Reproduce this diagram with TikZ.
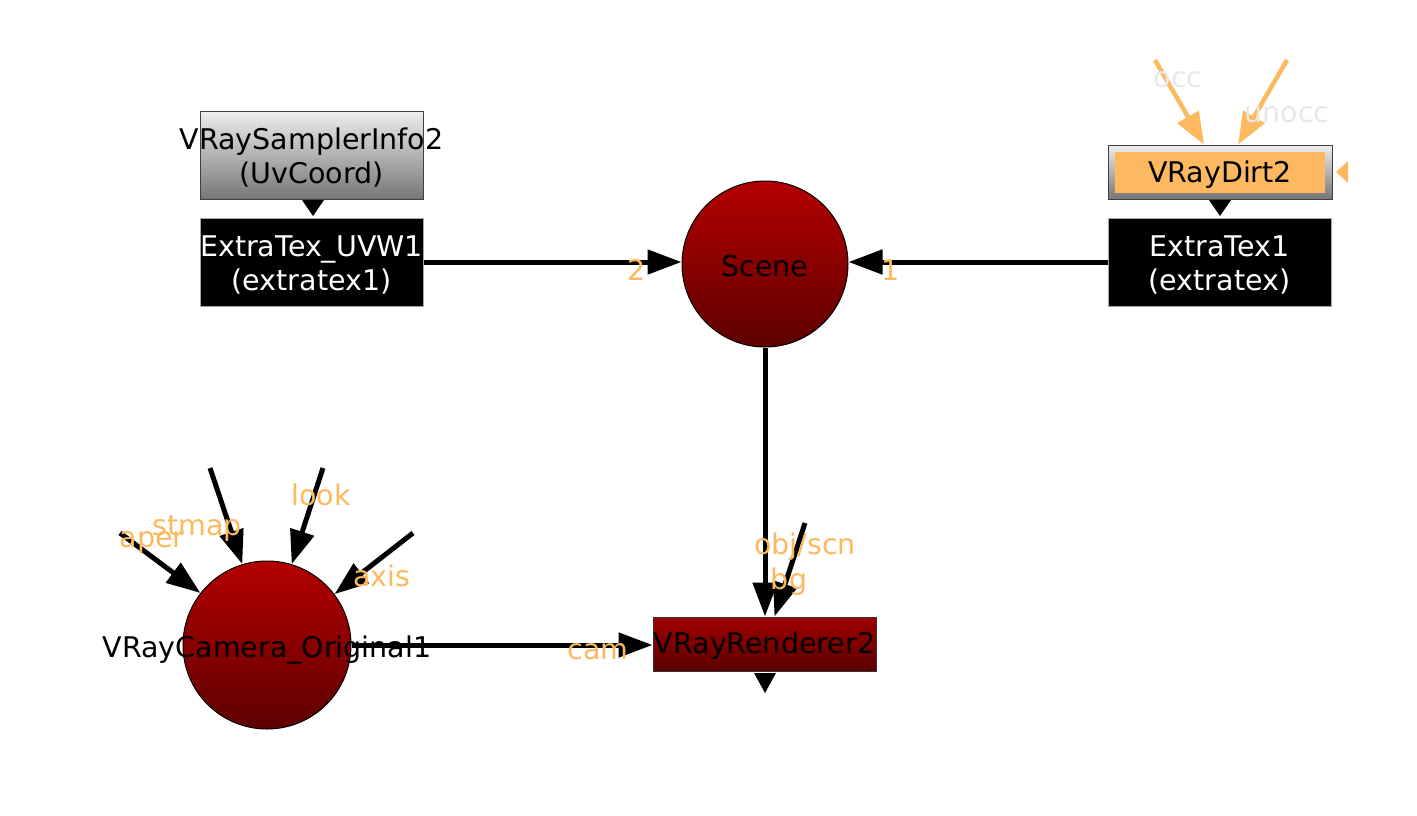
\documentclass[tikz,border=0pt]{standalone}
\usepackage{fontspec}
\setmainfont{DejaVu Sans}
\usetikzlibrary{arrows.meta}
\definecolor{portc}{RGB}{253,185,95}
\definecolor{ghost}{RGB}{232,232,232}
\definecolor{redtop}{RGB}{180,0,0}
\definecolor{redbot}{RGB}{94,0,0}
\definecolor{rentop}{RGB}{160,0,0}
\definecolor{renbot}{RGB}{92,0,0}
\definecolor{greytop}{RGB}{238,238,238}
\definecolor{greybot}{RGB}{118,118,118}
\begin{document}
\begin{tikzpicture}[x=1pt,y=-1pt,
  font=\fontsize{28.5}{34}\selectfont,
  redball/.style={circle, draw=black, line width=1pt, minimum size=166pt, inner sep=0pt, top color=redtop, bottom color=redbot},
  greybox/.style={rectangle, draw=black!75, line width=1pt, inner sep=0pt, top color=greytop, bottom color=greybot},
  blackbox/.style={rectangle, fill=black, draw=black!35, line width=1pt, inner sep=0pt, minimum width=223pt, minimum height=88pt},
  redbox/.style={rectangle, draw=black!80, line width=1pt, inner sep=0pt, top color=rentop, bottom color=renbot},
  txt/.style={text=black, align=center, inner sep=0pt},
  wtxt/.style={text=white, align=center, inner sep=0pt},
  port/.style={text=portc, inner sep=0pt},
  ghostport/.style={text=ghost, inner sep=0pt},
  arr/.style={line width=5pt, draw=black, -{Triangle[length=34pt,width=24pt]}},
  oarr/.style={line width=4.5pt, draw=portc, -{Triangle[length=32pt,width=24pt]}},
  tri/.style={fill=black},
]
\useasboundingbox[fill=white] (0,0) rectangle (1417,815);

% nodes
\node[greybox, minimum width=223pt, minimum height=88pt] (sinfo) at (311.5,155) {};
\node[blackbox] (uvw) at (311.5,262) {};
\node[redball] (scene) at (765,264) {};
\node[greybox, minimum width=224pt, minimum height=54pt] (dirt) at (1220,172) {};
\node[rectangle, fill=portc, inner sep=0pt, minimum width=210pt, minimum height=41pt] (dirtin) at (1220,172.5) {};
\node[blackbox] (extra) at (1219.5,262) {};
\node[redbox, minimum width=223pt, minimum height=54pt] (ren) at (764.5,644) {};
\node[redball, minimum size=168pt] (cam) at (267,645) {};

% free ends
\coordinate (fbg) at (805,523);
\coordinate (faper) at (120,533);
\coordinate (fstmap) at (210,468);
\coordinate (flook) at (323,468);
\coordinate (faxis) at (413,533);
\coordinate (focc) at (1155,60);
\coordinate (funocc) at (1287,60);

% connectors
\draw[arr] (uvw.east) -- (scene.west |- uvw.east);
\draw[arr] (extra.west) -- (scene.east |- extra.west);
\draw[arr] (scene.south) -- (scene.south |- ren.north);
\draw[arr] (fbg) -- ([xshift=10pt]ren.north);
\draw[arr] (cam.east) -- (ren.west |- cam.east);
\draw[arr] (faper) -- (cam.142);
\draw[arr] (fstmap) -- (cam.107);
\draw[arr] (flook) -- (cam.73);
\draw[arr] (faxis) -- (cam.37);
\draw[oarr] (focc) -- ([xshift=-16pt]dirt.north);
\draw[oarr] (funocc) -- ([xshift=18pt]dirt.north);

% small output triangles
\fill[tri] (302,200) -- (324,200) -- (313,216) -- cycle;
\fill[tri] (1209,200) -- (1231,200) -- (1220,216) -- cycle;
\fill[tri] (754,673) -- (776,673) -- (765,693) -- cycle;
\fill[portc] (1336,172) -- (1348,161) -- (1348,183) -- cycle;

% node texts
\node[txt] (sinfot) at ([yshift=-3pt]sinfo.center) {VRaySamplerInfo2\\(UvCoord)};
\node[wtxt] (uvwt) at ([yshift=-3pt]uvw.center) {ExtraTex\_UVW1\\(extratex1)};
\node[txt] (scenet) at ([yshift=-2pt]scene.center) {Scene};
\node[txt] (dirtt) at ([yshift=-2pt]dirtin.center) {VRayDirt2};
\node[wtxt] (extrat) at ([yshift=-3pt]extra.center) {ExtraTex1\\(extratex)};
\node[txt] (rent) at ([yshift=-2pt]ren.center) {VRayRenderer2};
\node[txt] (camt) at ([yshift=-5pt]cam.center) {VRayCamera\_Original1};

% port labels
\node[port] (l2) at (637,270) {2};
\node[port] (l1) at (891,270) {1};
\node[port] (lobj) at (805,547) {obj/scn};
\node[port] (lbg) at (789,582) {bg};
\node[port] (lcam) at (598,652) {cam};
\node[port] (laper) at (152,542) {aper};
\node[port] (lstmap) at (197,528) {stmap};
\node[port] (llook) at (321,495) {look};
\node[port] (laxis) at (382,576) {axis};
\node[ghostport] (locc) at (1178,80) {occ};
\node[ghostport] (lunocc) at (1287,115) {unocc};
\end{tikzpicture}
\end{document}
